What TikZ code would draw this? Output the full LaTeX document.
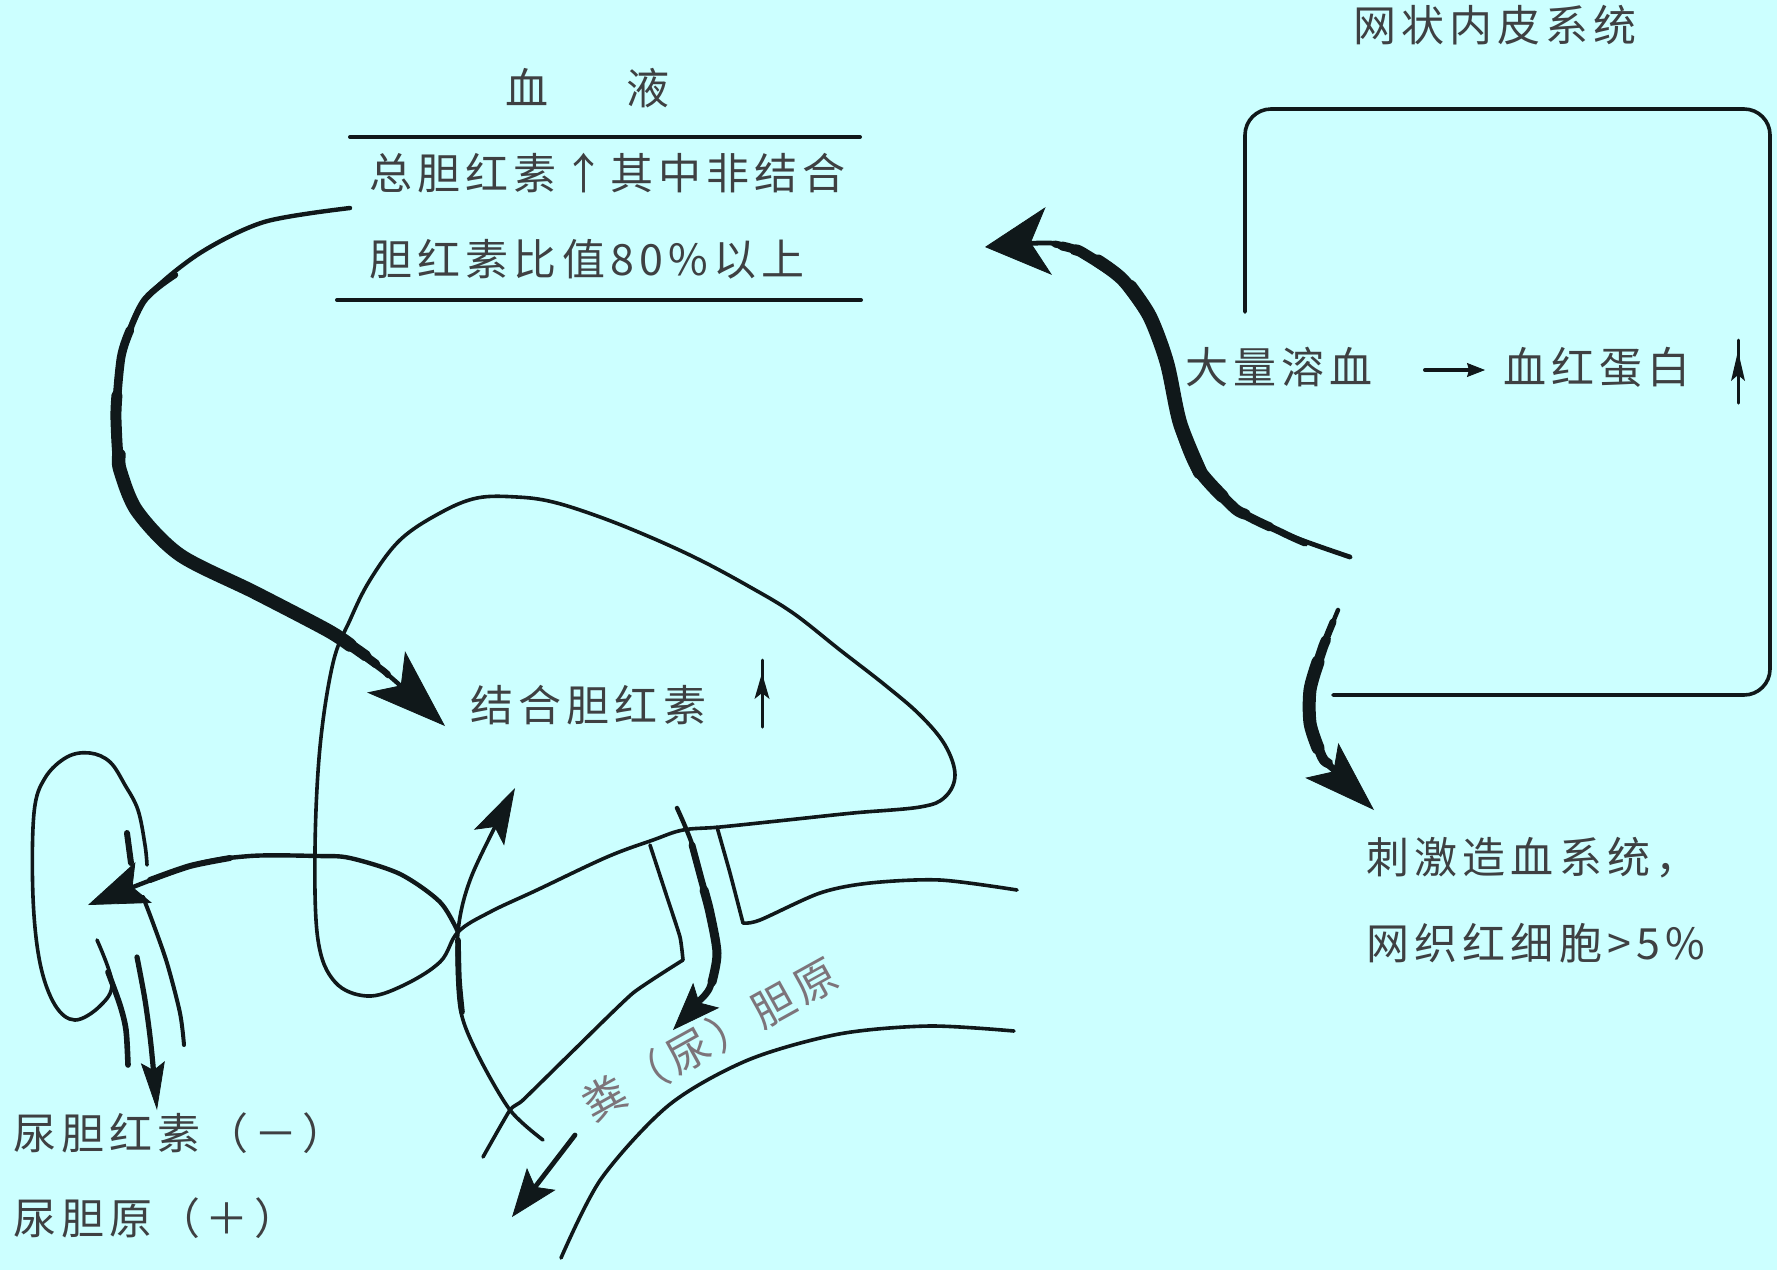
\documentclass[tikz,border=0pt]{standalone}
\usepackage{fontspec}
\newfontfamily\cjk{Noto Sans CJK SC}[LetterSpace=12]
\usetikzlibrary{arrows.meta}
\definecolor{paper}{RGB}{204,255,255}
\definecolor{inkc}{RGB}{16,24,26}
\definecolor{txtc}{RGB}{62,64,66}
\definecolor{softc}{RGB}{125,116,122}
\begin{document}
\begin{tikzpicture}[x=0.5pt,y=-0.5pt,line cap=round,line join=round,
  pen/.style={draw=inkc,line width=#1},pen/.default=1.8pt,
  lbl/.style={font=\cjk\fontsize{21.5pt}{21.5pt}\selectfont,text=txtc,inner sep=0pt,
    anchor=west,text height=0.88em,text depth=0.12em},
  headfill/.style={fill=inkc,draw=none},
  tipS/.style n args={3}{-{Stealth[length=#1,width=#2,inset=#3,line width=0.4pt]}}]

% paper
\fill[paper] (0,0) rectangle (1777,1270);
\useasboundingbox (0,0) rectangle (1777,1270);

% ---------- serum panel ----------
\node[lbl,anchor=center] (bloodA) at (527,97) {血};
\node[lbl,anchor=center] (bloodB) at (648,97) {液};
\draw[pen=2pt] (350,137) -- (860,137);
\node[lbl] (serum1) at (369,182) {总胆红素↑其中非结合};
\node[lbl] (serum2) at (369,268) {胆红素比值80\%以上};
\draw[pen=2pt] (337,300) -- (861,300);

% ---------- reticulo-endothelial system ----------
\node[lbl,anchor=center] (res) at (1495,34) {网状内皮系统};
\draw[pen,rounded corners=13pt] (1245,312) -- (1245,109) -- (1770,109) -- (1770,695) -- (1333,695);
\node[lbl] (hemo) at (1185,376) {大量溶血};
\node[lbl] (hb) at (1503,376) {血红蛋白};
\draw[pen=2pt,tipS={9pt}{7pt}{1pt}] (1425,370) -- (1485,370);
\draw[pen=1.5pt] (1738,403) -- (1738,340);
\fill[headfill] (1738,351) -- (1745,381) -- (1738,375) -- (1731,381) -- cycle;

% hemolysis feeds the blood pool (tapered stroke built from layers)
\draw[pen=2.4pt,tipS={32pt}{34pt}{9pt}] plot[smooth] coordinates {(1350,557) (1283,533) (1233,507) (1197,467) (1180,423) (1167,363) (1150,317) (1123,280) (1083,253) (1050,243) (985,247)};
\draw[pen=3.5pt] plot[smooth] coordinates {(1305,543) (1283,533) (1233,507) (1197,467) (1180,423) (1167,363) (1150,317) (1123,280) (1083,253) (1055,244)};
\draw[pen=4.5pt] plot[smooth] coordinates {(1270,527) (1233,507) (1197,467) (1180,423) (1167,363) (1150,317) (1123,280) (1083,253) (1062,246)};
\draw[pen=5.5pt] plot[smooth] coordinates {(1245,514) (1233,507) (1197,467) (1180,423) (1167,363) (1150,317) (1123,280) (1083,253) (1075,250)};
\draw[pen=6.5pt] plot[smooth] coordinates {(1222,496) (1197,467) (1180,423) (1167,363) (1150,317) (1123,280) (1098,261)};
\draw[pen=7.2pt] plot[smooth] coordinates {(1200,472) (1180,423) (1167,363) (1150,317) (1130,287)};

% stimulation of haematopoiesis
\draw[pen=2.2pt,tipS={36pt}{24pt}{8pt}] plot[smooth] coordinates {(1338,610) (1322,650) (1310,690) (1310,723) (1322,757) (1374,810)};
\draw[pen=3.5pt] plot[smooth] coordinates {(1333,622) (1322,650) (1310,690) (1310,723) (1322,757) (1335,770)};
\draw[pen=5pt] plot[smooth] coordinates {(1326,640) (1322,650) (1310,690) (1310,723) (1322,757) (1328,763)};
\draw[pen=6.5pt] plot[smooth] coordinates {(1318,662) (1310,690) (1310,723) (1318,748)};
\node[lbl] (stim1) at (1366,866) {刺激造血系统，};
\node[lbl] (stim2) at (1366,952) {网织红细胞>5\%};

% ---------- blood to liver ----------
\draw[pen=2.2pt,tipS={40pt}{28pt}{10pt}] plot[smooth] coordinates {(350,208) (264,222) (197,255) (143,302) (121,358) (116,420) (120,470) (137,511) (180,555) (254,592) (327,630) (380,668) (445,726)};
\draw[pen=3.2pt] plot[smooth] coordinates {(175,275) (143,302) (121,358) (116,420) (120,470) (137,511) (180,555) (254,592) (327,630) (380,668) (388,675)};
\draw[pen=4.3pt] plot[smooth] coordinates {(130,330) (121,358) (116,420) (120,470) (137,511) (180,555) (254,592) (327,630) (376,664)};
\draw[pen=5.5pt] plot[smooth] coordinates {(117,395) (116,420) (120,470) (137,511) (180,555) (254,592) (327,630) (366,656)};
\draw[pen=6.8pt] plot[smooth] coordinates {(119,455) (120,470) (137,511) (180,555) (254,592) (327,630) (350,645)};

% ---------- liver ----------
\draw[pen] plot[smooth cycle,tension=0.6] coordinates {(458,932) (490,912) (537,890) (607,857) (653,840) (683,830) (720,827) (787,820) (853,813) (920,807) (945,797) (955,775) (945,745) (920,715) (885,685) (840,650) (793,613) (750,587) (700,560) (650,537) (600,517) (553,502) (517,497) (477,498) (440,513) (400,540) (370,580) (350,620) (333,663) (320,747) (315,850) (318,940) (335,982) (367,996) (402,986) (440,962)};
\node[lbl] (conj) at (470,714) {结合胆红素};
\draw[pen=1.5pt] (762,727) -- (762,660);
\fill[headfill] (762,673) -- (769.5,699) -- (762,693) -- (754.5,699) -- cycle;

% to the kidney
\draw[pen=2.2pt,tipS={30pt}{22pt}{6pt}] plot[smooth] coordinates {(458,932) (440,902) (400,874) (350,858) (318,856) (250,856) (190,866) (88,905)};
\draw[pen=3pt] plot[smooth] coordinates {(230,858) (190,866) (150,880)};

% portal return from the gut
\draw[pen=1.8pt,tipS={28pt}{17pt}{6pt}] plot[smooth] coordinates {(543,1140) (510,1110) (477,1053) (460,1007) (458,932) (472,875) (515,788)};
\draw[pen=2.8pt] plot[smooth] coordinates {(458,940) (459,980) (462,1012)};

% ---------- bile duct and intestine ----------
\draw[pen] plot[smooth,tension=0.3] coordinates {(650,845) (667,897) (680,937) (683,960)};
\draw[pen] plot[smooth,tension=0.3] coordinates {(683,960) (633,993) (577,1047) (523,1100) (510,1110) (483,1157)};
\draw[pen=2.2pt,tipS={24pt}{18pt}{5pt}] plot[smooth] coordinates {(677,808) (693,847) (710,913) (717,953) (710,987) (673,1030)};
\draw[pen=3.4pt] plot[smooth] coordinates {(692,845) (700,875) (710,913) (717,953) (710,987) (700,1000)};
\draw[pen=4.5pt] plot[smooth] coordinates {(704,890) (710,913) (717,953) (712,982)};
\draw[pen] plot[smooth,tension=0.3] coordinates {(717,827) (730,873) (743,923)};
\draw[pen] plot[smooth] coordinates {(743,923) (760,920) (820,893) (870,883) (940,880) (1017,890)};
\draw[pen] plot[smooth] coordinates {(561,1258) (601,1179) (669,1105) (748,1060) (839,1034) (929,1026) (1014,1031)};
\draw[pen=2.4pt,tipS={24pt}{18pt}{5pt}] (575,1135) -- (512,1217);
\node[lbl,anchor=center,rotate=29,text=softc] (feces) at (714,1047) {粪（尿）胆原};

% ---------- kidney ----------
\draw[pen] plot[smooth,tension=0.6] coordinates {(97,940) (112,983) (100,1006) (75,1020) (55,1005) (40,963) (33,897) (34,813) (45,778) (67,757) (90,753) (110,762) (125,785) (138,810) (145,845) (147,865)};
\draw[pen=3pt] (127,833) -- (131,863);
\draw[pen=2.8pt] plot[smooth] coordinates {(108,972) (120,1005) (126,1030) (128,1065)};
\draw[pen=2pt] plot[smooth] coordinates {(143,897) (153,923) (167,963) (180,1013) (184,1045)};
\draw[pen=2.6pt,tipS={24pt}{12pt}{4pt}] plot[smooth] coordinates {(137,957) (145,1000) (151,1045) (157,1110)};
\node[lbl] (ubil) at (13,1142) {尿胆红素（－）};
\node[lbl] (uro) at (13,1227) {尿胆原（＋）};

\end{tikzpicture}
\end{document}
